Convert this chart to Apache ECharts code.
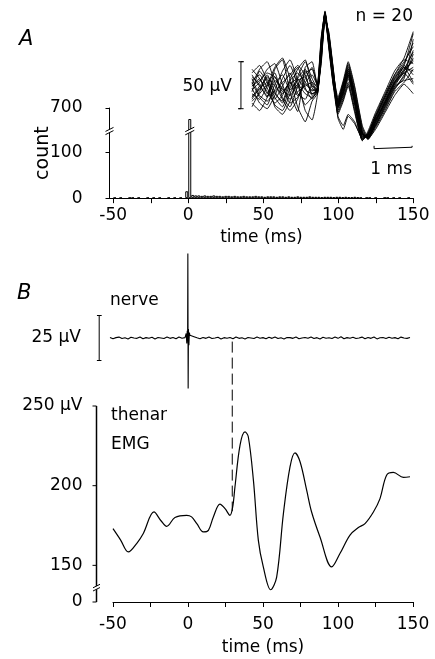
<!DOCTYPE html>
<html>
<head>
<meta charset="UTF-8">
<title>nerve spike / thenar EMG</title>
<script src="https://cdn.jsdelivr.net/npm/echarts@6/dist/echarts.min.js"></script>
<style>
  html, body { margin: 0; padding: 0; background: #fff; }
  #chart { width: 435px; height: 659px; }
</style>
</head>
<body>
<div id="chart"></div>
<script>
var FONT = 'DejaVu Sans';

// ---------- A: histogram (2 ms bins from -50 ms) ----------
var histStart = -50;
var histBin = 2;
var histCounts = [
  1, 0, 1, 0, 0, 1, 1, 0, 1, 0, 0, 1, 0, 1, 0, 1, 0, 0, 1, 0, 1, 0, 1, 0,
  15, 633,
  7, 6, 6, 5, 6, 5, 5, 6, 5, 5, 4, 5, 5, 4, 5, 4, 4, 5, 4, 4,
  4, 5, 4, 4, 3, 4, 4, 4, 3, 4, 4, 3, 4, 3, 3, 4, 3, 3, 3, 4,
  3, 3, 3, 2, 3, 3, 3, 2, 3, 3, 2, 3, 2, 2, 3, 2,
  1, 0, 1, 1, 0, 1, 0, 0, 1, 1, 0, 1, 0, 1, 0, 0, 1, 0
];
var histXTicks = [-50, -25, 0, 25, 50, 75, 100, 125, 150];
var histXLabels = [-50, 0, 50, 100, 150];
// broken count axis: 0..146 linear, then 560..700 squeezed above the break
var BREAK_LOW = 146, BREAK_HIGH = 560, COUNT_TOP = 700, DISP_TOP = 196;
var histYTicks = [0, 100, DISP_TOP];
var histYLabels = ['0', '100', '700'];
function countToAxis(c) {
  if (c <= BREAK_LOW) return c;
  return BREAK_LOW + (c - BREAK_HIGH) * (DISP_TOP - BREAK_LOW) / (COUNT_TOP - BREAK_HIGH);
}

// ---------- A inset: 20 superimposed spikes (ms, µV) ----------
var insetT = [0, 0.2, 0.4, 0.6, 0.8, 1.0, 1.2, 1.4, 1.58, 1.72, 1.82, 1.92, 2.02,
              2.14, 2.26, 2.4, 2.53, 2.7, 2.9, 3.05, 3.25, 3.5, 3.75, 4.0, 4.24];
var spikeTraces = [
  [2, 10, -6, 12, -4, 6, -8, 4, -3, -1, 42, 79, 52, 12, -16, 2, 20, -8, -48, -52, -36, -14, 6, 18, 30],
  [-8, -2, 14, -4, -16, 4, 10, -2, -6, -4, 30, 76, 56, 16, -20, -4, 14, -14, -52, -50, -30, -10, 10, 22, 18],
  [12, 4, -10, 20, 30, -5, -25, 22, 28, 2, 50, 80, 46, 6, -12, 6, 24, -4, -44, -54, -40, -20, 0, 12, 36],
  [-4, 18, 6, -12, 2, 16, -6, -12, 4, -6, 38, 78, 46, 4, -22, -8, 10, -18, -54, -48, -28, -6, 14, 28, 44],
  [6, -10, -18, 4, 14, -2, 8, 12, -8, 0, 26, 72, 60, 20, -18, -2, 16, -12, -50, -53, -38, -18, 2, 8, 10],
  [-14, -6, 4, 16, -10, -20, 2, 18, 6, -3, 39, 77, 49, 10, -24, -10, 6, -22, -55, -50, -32, -12, 8, 24, 58],
  [16, 24, 8, -6, -14, 10, 22, 0, -12, 1, 54, 80, 42, 2, -14, 4, 22, -6, -46, -55, -42, -24, -4, 6, 20],
  [0, -16, -22, -8, 10, 24, 4, -18, -10, -5, 37, 75, 47, 5, -26, -12, 4, -24, -56, -46, -26, -4, 18, 30, 26],
  [-20, -4, 12, 2, -6, 8, 16, 6, -2, -2, 41, 79, 51, 9, -17, 0, 18, -10, -49, -51, -34, -16, 4, 20, 38],
  [8, 14, 0, -18, -24, -6, 12, 28, 10, 0, 32, 74, 58, 18, -15, 3, 26, 0, -42, -54, -44, -26, -8, 4, -6],
  [-2, 6, 20, 26, 4, -16, -10, 6, 14, 3, 45, 82, 55, 15, -10, 8, 28, 2, -40, -52, -40, -22, -2, 14, 32],
  [10, -8, -14, -2, 18, 30, 8, -24, -34, -8, 34, 74, 44, 2, -28, -14, 2, -26, -56, -48, -30, -8, 12, 26, 48],
  [-10, 2, 10, -10, -20, 0, 20, 30, 2, -1, 40, 79, 51, 10, -19, -4, 12, -16, -52, -52, -36, -16, 6, 16, 4],
  [4, 20, 28, 6, -12, -24, -12, 10, 22, 4, 52, 81, 48, 8, -13, 5, 20, -6, -47, -54, -38, -18, 2, 18, 40],
  [-6, -12, 2, 22, 32, 10, -20, -36, -14, -6, 28, 73, 57, 19, -21, -6, 14, -14, -51, -50, -32, -10, 10, 24, 14],
  [14, 2, -8, -4, 6, 14, 24, 14, -6, -2, 40, 80, 52, 10, -30, -40, -28, -36, -54, -50, -34, -14, 6, 20, 28],
  [-16, -24, -10, 8, 0, -12, -4, 2, 6, 1, 48, 79, 50, 13, -16, 2, 18, -10, -48, -53, -40, -20, 0, 10, 52],
  [2, 8, 16, 12, -2, -8, 4, -6, -10, -3, 35, 77, 54, 14, -20, -6, 14, -14, -50, -51, -34, -14, 6, 22, 6],
  [20, 10, -4, -16, -8, 6, 0, 16, 20, 2, 44, 80, 52, 12, -32, -44, -30, -38, -53, -49, -30, -8, 14, 32, 60],
  [-12, 0, 6, -20, -28, -14, 10, 20, 0, -4, 39, 78, 50, 9, -18, -2, 16, -12, -49, -52, -36, -16, 4, 16, 22]
];

// ---------- B: nerve recording (µV) ----------
var nervePreStart = -52, nerveStep = 2;
var nervePre = [0.3, -0.4, 0.2, 0.5, -0.3, 0.1, -0.5, 0.4, 0.0, -0.2, 0.6, -0.4, 0.2,
                -0.1, 0.4, -0.5, 0.3, 0.0, -0.3, 0.5, -0.2, 0.3, -0.4, 0.6, -0.1, 0.2];
var artifactT = [-1.2, -0.8, -0.5, -0.25, -0.1, 0.1, 0.3, 0.6, 0.9, 1.3];
var artifactV = [2.5, -3, 4, -2, 47, -28, 5, -4, 3, 1.5];
var nervePostStart = 2;
var nervePost = [
  1.2, 0.7, 0.1, -0.4, 0.3, -0.2, 0.5, -0.3, 0.0, 0.4,
  -0.5, 0.2, -0.1, 0.3, -0.4, 0.6, -0.2, 0.1, -0.5, 0.3,
  0.0, -0.3, 0.5, -0.1, 0.2, -0.4, 0.4, -0.2, 0.6, -0.3,
  0.1, -0.5, 0.3, 0.2, -0.2, 0.5, -0.4, 0.0, 0.3, -0.1,
  0.6, -0.3, 0.2, -0.5, 0.4, -0.1, 0.1, -0.3, 0.5, -0.2,
  0.7, -0.4, 0.2, -0.1, 0.4, -0.3, 0.0, 0.5, -0.4, 0.3,
  -0.2, 0.6, -0.5, 0.1, 0.3, -0.3, 0.4, -0.1, 0.2, -0.4,
  0.5, 0.0, -0.2, 0.3
];
var nerveLatency = 29.5;

// ---------- B: thenar EMG (ms, µV) ----------
var emgT = [-50, -45, -39.8, -34, -29.8, -22.7, -18, -14.2, -8.7, -0.9, 2.4, 6, 10.2, 13.6, 16.9,
            21.3, 24.7, 28, 29.8, 31.3, 34.7, 38, 40.2, 43.6, 46.9, 50.2, 55.1, 59.1, 63.6, 68,
            71.3, 74.7, 79.1, 82.4, 88, 95.8, 101.3, 108, 113.6, 118, 123.6, 128, 132.4, 136.9,
            143.6, 148];
var emgV = [173, 166, 158.4, 164, 170, 183.5, 178, 174.5, 180, 181.4, 180.4, 176, 171, 172, 180.4,
            188.4, 185.6, 181.4, 186.7, 199.2, 225.5, 233.8, 230.7, 203.5, 165.7, 149, 134.7, 142.6,
            182.5, 211.8, 220.6, 215, 197.2, 183.5, 167.8, 149, 157.4, 169, 173.7, 176.2, 183.5,
            191.9, 206.6, 208.3, 205.2, 205.6];
var EMG_ZERO = 127;   // bottom of the broken axis, labelled 0
var EMG_BREAK = 136;
var emgYTicks = [EMG_ZERO, 150, 200, 250];
var emgYLabels = ['0', '150', '200', '250 \u00b5V'];
var emgXLabelEvery = 50;

// ---------- build series ----------
var histData = [];
histCounts.forEach(function (c, i) {
  if (c > 0) histData.push([histStart + histBin * i + histBin / 2, countToAxis(c)]);
});

var nerveData = [];
nervePre.forEach(function (v, i) { nerveData.push([nervePreStart + nerveStep * i, v]); });
artifactT.forEach(function (t, i) { nerveData.push([t, artifactV[i]]); });
nervePost.forEach(function (v, i) { nerveData.push([nervePostStart + nerveStep * i, v]); });

var emgData = emgT.map(function (t, i) { return [t, emgV[i]]; });

function blackLine(grid, data, width, extra) {
  var s = {
    type: 'line', xAxisIndex: grid, yAxisIndex: grid, data: data,
    symbol: 'none', silent: true, clip: false,
    lineStyle: { color: '#000', width: width }
  };
  for (var k in extra) s[k] = extra[k];
  return s;
}

var series = [];
series.push({
  type: 'bar', xAxisIndex: 0, yAxisIndex: 0, data: histData, barWidth: 3,
  silent: true, itemStyle: { color: '#fff', borderColor: '#000', borderWidth: 1 }
});
spikeTraces.forEach(function (tr) {
  series.push(blackLine(1, insetT.map(function (t, i) { return [t, tr[i]]; }), 0.9, { smooth: 0.15 }));
});
// scale bars: 50 µV and 1 ms (inset), 25 µV (nerve)
series.push(blackLine(1, [[-0.36, 28], [-0.22, 28], [-0.29, 28], [-0.29, -22], [-0.36, -22], [-0.22, -22]], 1));
series.push(blackLine(1, [[3.21, -61.5], [3.21, -64.5], [3.21, -63], [4.21, -63], [4.21, -61.5], [4.21, -64.5]], 1));
series.push(blackLine(2, [[-60.7, 12.5], [-57.7, 12.5], [-59.2, 12.5], [-59.2, -12.5], [-60.7, -12.5], [-57.7, -12.5]], 1));
series.push(blackLine(2, nerveData, 1.1));
series.push(blackLine(3, emgData, 1.2, { smooth: 0.35 }));

var axisBase = {
  type: 'value',
  splitLine: { show: false },
  axisLine: { show: true, onZero: false, lineStyle: { color: '#000', width: 1 } },
  axisTick: { show: true, lineStyle: { color: '#000', width: 1 } },
  axisLabel: { color: '#000', fontFamily: FONT, fontSize: 17 },
  nameTextStyle: { color: '#000', fontFamily: FONT, fontSize: 17 }
};
function ax(o) {
  var r = JSON.parse(JSON.stringify(axisBase));
  for (var k in o) {
    if (typeof o[k] === 'object' && r[k] && !Array.isArray(o[k])) {
      for (var j in o[k]) r[k][j] = o[k][j];
    } else r[k] = o[k];
  }
  return r;
}
function hidden(o) { return Object.assign({ type: 'value', show: false, splitLine: { show: false } }, o); }

var option = {
  animation: false,
  backgroundColor: '#fff',
  textStyle: { fontFamily: FONT, color: '#000' },
  grid: [
    { left: 109.5, top: 108, width: 303.75, height: 90.16, outerBoundsMode: 'none' },  // A histogram
    { left: 236, top: 10, width: 178, height: 141, outerBoundsMode: 'none' },          // A inset
    { left: 95, top: 248, width: 315, height: 144, outerBoundsMode: 'none' },          // B nerve
    { left: 113, top: 406, width: 300, height: 196, outerBoundsMode: 'none' },         // B EMG
    { left: 96.5, top: 406, width: 10, height: 196, outerBoundsMode: 'none' }          // B EMG y axis
  ],
  xAxis: [
    ax({
      gridIndex: 0, min: -52.5, max: 150,
      axisTick: { length: 5, customValues: histXTicks },
      axisLabel: { customValues: histXLabels, margin: 9 },
      name: 'time (ms)', nameLocation: 'middle', nameGap: 31, nameMoveOverlap: false
    }),
    hidden({ gridIndex: 1, min: -0.42, max: 4.26 }),
    hidden({ gridIndex: 2, min: -62, max: 148 }),
    ax({
      gridIndex: 3, min: -50, max: 150, interval: 25,
      axisTick: { length: 5 },
      axisLabel: { margin: 14, formatter: function (v) { return v % emgXLabelEvery === 0 ? v : ''; } },
      name: 'time (ms)', nameLocation: 'middle', nameGap: 37, nameMoveOverlap: false
    }),
    hidden({ gridIndex: 4, min: 0, max: 1 })
  ],
  yAxis: [
    ax({
      gridIndex: 0, min: 0, max: DISP_TOP,
      axisTick: { length: 4, customValues: histYTicks },
      axisLabel: { customValues: histYTicks, margin: 27,
        formatter: function (v) { return histYLabels[histYTicks.indexOf(v)]; } },
      name: 'count', nameLocation: 'middle', nameGap: 57, nameMoveOverlap: false,
      nameTextStyle: { fontSize: 19 }
    }),
    hidden({ gridIndex: 1, min: -67, max: 83 }),
    hidden({ gridIndex: 2, min: -30, max: 50 }),
    hidden({ gridIndex: 3, min: EMG_ZERO, max: 250 }),
    ax({
      gridIndex: 4, min: EMG_ZERO, max: 250,
      axisLine: { show: false },
      axisTick: { show: false },
      axisLabel: { customValues: emgYTicks, margin: 14,
        formatter: function (v) { return emgYLabels[emgYTicks.indexOf(v)]; } }
    })
  ],
  series: series
};

var chart = echarts.init(document.getElementById('chart'));
chart.setOption(option);

// ---------- annotations placed through the axes ----------
function px(grid, x, y) { return chart.convertToPixel({ gridIndex: grid }, [x, y]); }

function stroke(x1, y1, x2, y2, extra) {
  var st = { stroke: '#000', lineWidth: 1 };
  for (var k in extra) st[k] = extra[k];
  return { type: 'line', z: 100, silent: true, shape: { x1: x1, y1: y1, x2: x2, y2: y2 }, style: st };
}

function breakMark(p, hw) {
  var s = hw * 0.5, g = 1.6, x = p[0], y = p[1];
  return [
    { type: 'polygon', z: 100, silent: true,
      shape: { points: [[x - hw, y - g + s], [x + hw, y - g - s], [x + hw, y + g - s], [x - hw, y + g + s]] },
      style: { fill: '#fff' } },
    Object.assign(stroke(x - hw, y - g + s, x + hw, y - g - s), { z: 101 }),
    Object.assign(stroke(x - hw, y + g + s, x + hw, y + g - s), { z: 101 })
  ];
}

function label(text, x, y, align, size, italic) {
  return { type: 'text', z: 100, silent: true, x: x, y: y,
    style: { text: text, fill: '#000', fontFamily: FONT, fontSize: size || 17,
      fontStyle: italic ? 'italic' : 'normal', align: align || 'left', verticalAlign: 'middle' } };
}

var gfx = [];

// EMG y axis line and ticks, placed on the y scale of grid 4
var emgTop = px(4, 0, 250), emgBottom = px(4, 0, EMG_ZERO);
gfx.push({ type: 'rect', z: 99, silent: true,
  shape: { x: emgTop[0] - 0.75, y: emgTop[1], width: 1.5, height: emgBottom[1] - emgTop[1] },
  style: { fill: '#000' } });
emgYTicks.forEach(function (v) {
  var p = px(4, 0, v);
  gfx.push({ type: 'rect', z: 99, silent: true,
    shape: { x: p[0] - 4, y: p[1] - 0.5, width: 4, height: 1 }, style: { fill: '#000' } });
});

gfx = gfx.concat(breakMark(px(0, -52.5, BREAK_LOW), 4));
gfx = gfx.concat(breakMark(px(0, histStart + histBin * 25 + histBin / 2, BREAK_LOW), 4.5));
gfx = gfx.concat(breakMark(px(4, 0, EMG_BREAK), 3.5));

var dashTop = px(2, nerveLatency, -2);
var dashBot = px(3, nerveLatency, 184);
gfx.push(stroke(dashTop[0], dashTop[1], dashBot[0], dashBot[1], { lineDash: [11, 5] }));

gfx.push(label('A', 19, 40, 'left', 21, true));
gfx.push(label('B', 17, 294, 'left', 21, true));
gfx.push(label('n = 20', 413, 17, 'right'));
gfx.push(label('50 \u00b5V', 232, 87, 'right'));
gfx.push(label('1 ms', 412, 170, 'right'));
gfx.push(label('25 \u00b5V', 81, 338, 'right'));
gfx.push(label('nerve', 110, 301, 'left'));
gfx.push(label('thenar', 111, 416, 'left'));
gfx.push(label('EMG', 111, 445, 'left'));

chart.setOption({ graphic: { elements: gfx } });
</script>
</body>
</html>
